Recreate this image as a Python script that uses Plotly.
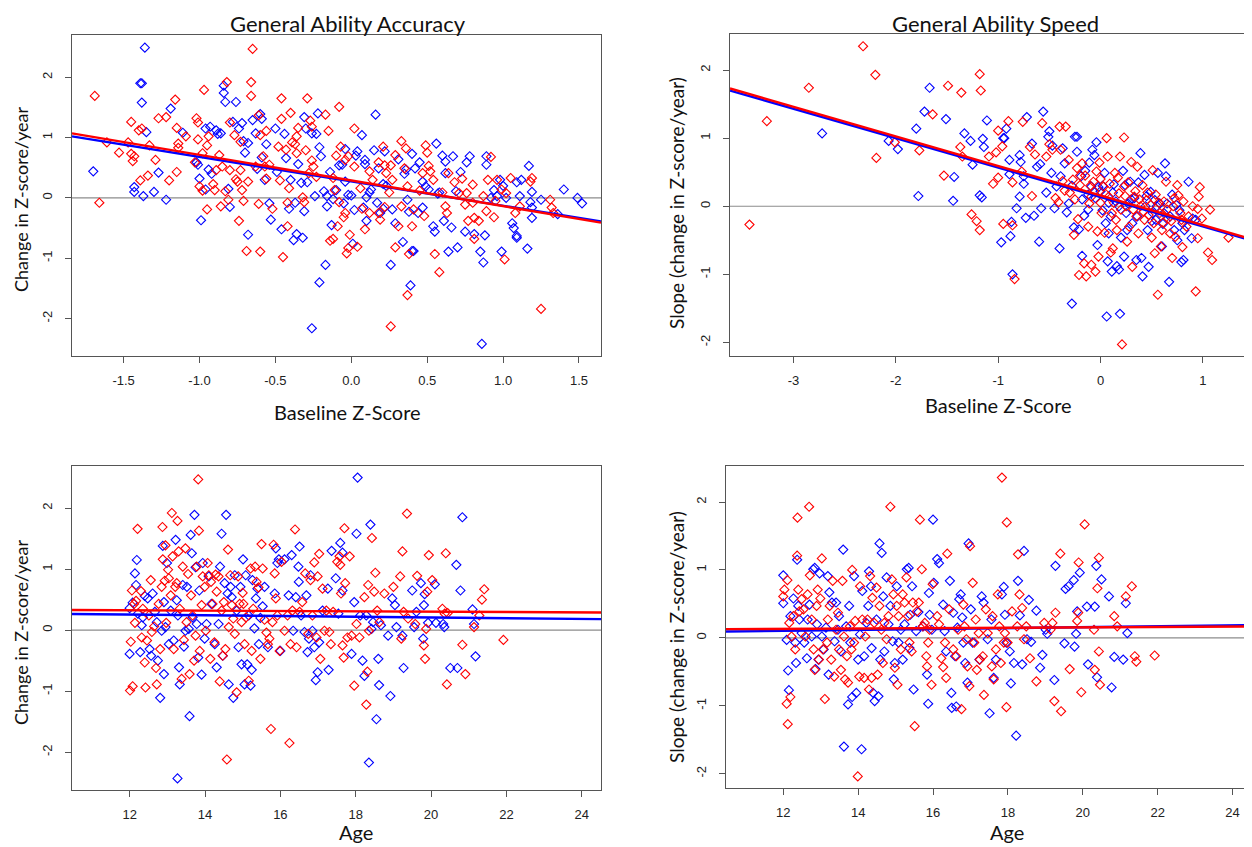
import plotly.graph_objects as go

# ---------------- DATA ----------------
# Panel 1: General Ability Accuracy vs Baseline Z-Score
acc_base_red = [(-1.69,1.69),(-1.66,-0.08),(-1.61,0.92),(-1.53,0.75),(-1.47,0.92),(-1.45,1.26),(-1.45,0.73),(-1.44,0.61),(-1.43,0.69),(-1.40,1.12),(-1.38,1.15),(-1.39,0.29),(-1.34,0.37),(-1.33,0.87),(-1.29,0.63),(-1.27,1.32),(-1.22,1.34),(-1.20,0.29),(-1.16,1.63),(-1.15,1.16),(-1.15,0.43),(-1.14,0.90),(-1.14,0.83),(-1.09,1.02),(-1.03,0.59),(-1.02,1.32),(-1.01,1.25),(-1.01,0.97),(-1.00,0.19),(-0.98,0.12),(-0.97,1.79),(-0.98,0.74),(-0.95,-0.19),(-0.95,0.87),(-0.94,1.02),(-0.91,0.23),(-0.90,0.13),(-0.89,0.46),(-0.87,0.71),(-0.86,-0.14),(-0.85,0.52),(-0.82,1.92),(-0.83,0.11),(-0.81,-0.03),(-0.80,0.46),(-0.80,1.25),(-0.77,1.04),(-0.76,0.31),(-0.75,0.27),(-0.74,-0.38),(-0.73,0.93),(-0.73,0.46),(-0.72,0.13),(-0.71,-0.05),(-0.69,-0.88),(-0.68,0.27),(-0.66,1.69),(-0.66,1.92),(-0.65,2.47),(-0.63,0.52),(-0.61,1.37),(-0.61,-0.10),(-0.60,-0.89),(-0.60,1.04),(-0.58,0.69),(-0.57,0.52),(-0.56,1.11),(-0.56,0.32),(-0.54,0.55),(-0.52,-0.18),(-0.48,0.85),(-0.47,0.29),(-0.46,1.65),(-0.46,1.31),(-0.45,-0.98),(-0.43,0.80),(-0.42,-0.47),(-0.42,-0.08),(-0.41,0.16),(-0.40,1.41),(-0.39,0.92),(-0.37,0.89),(-0.36,0.74),(-0.36,1.02),(-0.35,1.16),(-0.32,0.01),(-0.31,-0.07),(-0.30,0.79),(-0.29,1.65),(-0.28,0.41),(-0.27,1.28),(-0.26,1.18),(-0.26,0.62),(-0.25,0.52),(-0.23,0.35),(-0.17,1.38),(-0.15,1.11),(-0.14,-0.71),(-0.12,-0.68),(-0.12,0.33),(-0.11,0.13),(-0.10,0.70),(-0.09,-0.47),(-0.08,1.51),(-0.08,-0.07),(-0.07,0.85),(-0.05,-0.32),(-0.04,-0.25),(-0.04,0.63),(-0.03,-0.92),(-0.02,-0.83),(-0.02,0.69),(-0.01,-0.61),(0.02,1.15),(0.02,0.52),(0.04,-0.81),(0.06,0.16),(0.07,-0.18),(0.09,-0.52),(0.12,0.44),(0.12,-0.25),(0.14,0.30),(0.18,0.59),(0.18,-0.25),(0.19,-0.36),(0.21,0.85),(0.22,0.54),(0.22,-0.15),(0.23,0.41),(0.25,0.09),(0.26,0.54),(0.26,-2.13),(0.27,0.30),(0.29,-0.82),(0.29,0.71),(0.31,-0.47),(0.33,0.94),(0.33,-0.14),(0.35,0.49),(0.36,0.82),(0.37,-1.61),(0.37,0.19),(0.38,-0.93),(0.40,-0.47),(0.41,-0.19),(0.45,0.12),(0.47,0.41),(0.48,-0.30),(0.49,0.87),(0.50,0.75),(0.51,0.53),(0.52,0.44),(0.54,0.30),(0.55,-0.93),(0.58,-1.23),(0.60,0.09),(0.62,-0.14),(0.63,-0.25),(0.64,0.41),(0.68,0.26),(0.71,0.08),(0.73,0.32),(0.75,-0.11),(0.76,0.08),(0.77,-0.38),(0.80,0.22),(0.80,-0.08),(0.81,-0.33),(0.81,-0.68),(0.84,-0.38),(0.87,0.03),(0.89,-0.22),(0.90,0.30),(0.92,0.68),(0.94,-0.32),(0.95,-0.05),(0.96,0.30),(0.99,0.14),(1.01,-1.02),(1.02,0.08),(1.05,0.33),(1.08,-0.25),(1.11,-0.14),(1.18,0.27),(1.19,0.33),(1.25,-1.84),(1.31,-0.03),(1.32,-0.16),(1.33,-0.25)]
acc_base_blue = [(-1.70,0.44),(-1.43,0.18),(-1.43,0.10),(-1.39,1.90),(-1.38,1.90),(-1.38,1.58),(-1.37,0.03),(-1.36,2.49),(-1.35,1.09),(-1.30,0.10),(-1.27,0.42),(-1.22,-0.03),(-1.19,1.48),(-1.11,1.08),(-1.02,0.59),(-1.01,0.55),(-1.00,0.32),(-0.99,-0.37),(-0.96,0.14),(-0.96,1.15),(-0.94,0.47),(-0.93,1.18),(-0.92,0.40),(-0.89,1.12),(-0.88,1.06),(-0.86,1.07),(-0.84,1.86),(-0.84,1.74),(-0.83,1.59),(-0.81,0.15),(-0.80,-0.15),(-0.78,1.26),(-0.76,1.59),(-0.74,1.15),(-0.72,1.24),(-0.71,0.94),(-0.70,0.75),(-0.68,0.91),(-0.68,-0.61),(-0.65,1.29),(-0.63,1.07),(-0.62,0.48),(-0.60,1.39),(-0.59,1.31),(-0.59,0.67),(-0.57,0.30),(-0.56,0.89),(-0.54,-0.09),(-0.53,-0.36),(-0.50,1.15),(-0.49,0.43),(-0.46,-0.52),(-0.44,1.06),(-0.43,0.66),(-0.41,-0.18),(-0.40,0.30),(-0.38,-0.70),(-0.37,-0.08),(-0.36,-0.60),(-0.35,0.56),(-0.33,0.25),(-0.32,-0.66),(-0.31,-0.22),(-0.31,1.34),(-0.30,1.15),(-0.29,0.26),(-0.26,1.07),(-0.26,-2.16),(-0.24,0.03),(-0.23,1.06),(-0.22,1.40),(-0.21,-1.40),(-0.21,0.84),(-0.20,0.69),(-0.18,0.11),(-0.17,-1.11),(-0.16,-0.14),(-0.16,0.03),(-0.14,0.43),(-0.13,-0.45),(-0.12,-0.02),(-0.10,0.13),(-0.08,0.54),(-0.06,0.55),(-0.05,-0.09),(-0.04,0.27),(-0.04,0.81),(-0.02,0.05),(0.00,0.04),(0.01,-0.76),(0.02,-0.20),(0.03,0.70),(0.04,0.77),(0.07,1.04),(0.08,-0.16),(0.09,0.63),(0.09,0.56),(0.10,0.01),(0.10,-0.38),(0.12,0.09),(0.13,0.14),(0.15,0.79),(0.16,1.38),(0.17,-0.08),(0.18,0.49),(0.19,-0.25),(0.21,-0.18),(0.21,0.23),(0.22,0.77),(0.23,0.20),(0.26,-1.11),(0.27,-0.19),(0.29,-0.42),(0.31,0.64),(0.34,-0.73),(0.35,0.40),(0.36,0.47),(0.37,-0.03),(0.38,-0.23),(0.39,-1.45),(0.40,0.73),(0.40,-0.88),(0.41,-0.88),(0.42,0.49),(0.44,-0.25),(0.45,0.59),(0.47,-0.16),(0.47,0.27),(0.49,0.19),(0.51,0.14),(0.54,-0.47),(0.55,-0.56),(0.56,0.90),(0.57,0.07),(0.58,0.09),(0.60,0.70),(0.61,-0.38),(0.62,0.41),(0.62,0.60),(0.64,-0.89),(0.66,-0.49),(0.67,0.69),(0.69,0.11),(0.70,-0.82),(0.72,0.43),(0.75,-0.56),(0.76,0.59),(0.78,0.69),(0.81,-0.60),(0.85,-0.89),(0.86,-2.42),(0.87,-1.07),(0.88,-0.62),(0.89,0.55),(0.89,0.69),(0.92,0.00),(0.94,0.13),(0.96,0.03),(0.98,0.30),(0.99,-0.89),(1.00,0.20),(1.02,0.00),(1.06,-0.42),(1.07,-0.50),(1.09,-0.63),(1.09,-0.66),(1.09,0.26),(1.11,0.03),(1.12,0.30),(1.16,-0.84),(1.17,0.53),(1.18,-0.07),(1.19,-0.16),(1.19,0.10),(1.19,-0.33),(1.25,-0.03),(1.36,-0.27),(1.40,0.14),(1.49,0.00),(1.52,-0.09)]
acc_base_fit_red = [0.289, -0.4247]   # intercept, slope
acc_base_fit_blue = [0.275, -0.4046]

# Panel 2: General Ability Speed vs Baseline Z-Score
spd_base_red = [(-3.43,-0.27),(-3.26,1.25),(-2.85,1.74),(-2.32,2.35),(-2.20,1.93),(-2.19,0.71),(-2.01,0.94),(-1.77,0.82),(-1.64,1.35),(-1.53,0.45),(-1.49,1.77),(-1.36,1.67),(-1.37,0.87),(-1.35,0.73),(-1.26,-0.12),(-1.21,-0.22),(-1.18,-0.35),(-1.18,1.94),(-1.17,1.70),(-1.09,0.73),(-1.05,0.33),(-1.02,0.79),(-1.00,1.11),(-1.00,0.42),(-0.96,0.88),(-0.95,-0.26),(-0.90,1.25),(-0.86,0.35),(-0.86,-0.28),(-0.84,-1.07),(-0.77,0.51),(-0.76,1.24),(-0.69,0.87),(-0.67,0.15),(-0.64,0.76),(-0.57,1.22),(-0.53,0.73),(-0.50,0.91),(-0.47,0.83),(-0.44,0.12),(-0.41,0.06),(-0.40,1.17),(-0.39,0.83),(-0.37,0.37),(-0.34,1.17),(-0.35,0.23),(-0.31,0.68),(-0.27,0.39),(-0.26,-0.42),(-0.23,0.56),(-0.22,-0.19),(-0.21,-1.01),(-0.20,0.31),(-0.18,0.63),(-0.16,-0.84),(-0.14,-1.03),(-0.12,-0.30),(-0.11,0.04),(-0.09,-0.86),(-0.09,0.14),(-0.07,0.36),(-0.05,-0.96),(-0.04,0.51),(-0.03,-0.37),(-0.02,-0.74),(-0.01,0.64),(0.01,-0.10),(0.03,0.29),(0.04,-0.39),(0.06,1.00),(0.07,0.73),(0.08,0.14),(0.10,-0.68),(0.11,-0.10),(0.12,-0.62),(0.14,0.49),(0.16,-0.35),(0.18,0.19),(0.19,0.73),(0.21,-2.03),(0.23,0.29),(0.23,1.01),(0.25,0.00),(0.26,-0.52),(0.28,-0.30),(0.30,0.65),(0.31,-0.89),(0.33,0.14),(0.35,-0.15),(0.36,0.58),(0.37,-0.40),(0.39,0.00),(0.41,0.31),(0.43,-0.20),(0.45,0.09),(0.47,-0.13),(0.50,-0.46),(0.51,0.53),(0.53,-0.69),(0.54,0.17),(0.56,-1.30),(0.58,-0.10),(0.59,-0.59),(0.61,-0.24),(0.62,0.07),(0.64,0.36),(0.66,-0.18),(0.68,-0.40),(0.70,-0.76),(0.71,0.00),(0.73,-0.45),(0.75,0.31),(0.76,0.16),(0.78,-0.10),(0.80,-0.60),(0.81,0.07),(0.84,-0.30),(0.90,0.00),(0.93,-1.25),(0.95,-0.47),(0.95,-0.04),(0.96,0.14),(0.97,0.28),(0.99,-0.18),(1.05,-0.68),(1.07,-0.05),(1.09,-0.79),(1.25,-0.46),
                (-0.30,0.20),(-0.25,0.10),(-0.15,0.45),(-0.06,0.22),(0.00,0.40),(0.05,0.18),(0.09,0.33),(0.13,0.05),(0.17,0.42),(0.20,-0.05),(0.24,0.15),(0.27,0.35),(0.32,-0.05),(0.34,0.22),(0.38,0.10),(0.42,-0.08),(0.46,0.20),(0.49,0.02),(0.52,-0.25),(0.57,0.05),(0.60,-0.35),(0.65,-0.05),(0.69,-0.22),(0.72,0.12),(0.79,-0.20),(0.86,-0.15),(0.15,-0.20),(0.00,0.05),(-0.10,0.30),(-0.20,0.45)]
spd_base_blue = [(-2.72,1.07),(-2.07,0.96),(-1.98,0.84),(-1.80,1.14),(-1.78,0.15),(-1.72,1.39),(-1.67,1.74),(-1.51,1.28),(-1.44,0.08),(-1.43,0.43),(-1.33,1.07),(-1.27,0.96),(-1.25,0.61),(-1.18,0.16),(-1.16,0.13),(-1.15,0.99),(-1.14,0.87),(-1.11,1.26),(-0.97,-0.53),(-0.95,1.00),(-0.94,1.00),(-0.92,1.14),(-0.89,0.47),(-0.89,0.68),(-0.88,-0.44),(-0.87,-0.23),(-0.86,-1.00),(-0.82,-0.03),(-0.79,0.75),(-0.79,0.14),(-0.78,0.65),(-0.75,0.44),(-0.75,0.33),(-0.73,-0.17),(-0.72,1.31),(-0.67,0.92),(-0.65,-0.14),(-0.62,0.58),(-0.60,-0.52),(-0.59,0.62),(-0.58,-0.03),(-0.56,1.39),(-0.53,0.20),(-0.51,1.02),(-0.50,1.10),(-0.48,0.49),(-0.47,0.89),(-0.45,-0.03),(-0.43,0.29),(-0.40,-0.62),(-0.39,0.44),(-0.37,0.85),(-0.35,0.63),(-0.33,-0.09),(-0.31,0.04),(-0.28,-1.43),(-0.26,-0.31),(-0.25,1.02),(-0.23,0.80),(-0.23,1.02),(-0.21,-0.34),(-0.19,0.44),(-0.18,-0.73),(-0.16,-0.14),(-0.15,0.52),(-0.12,0.17),(-0.11,0.64),(-0.09,0.29),(-0.08,0.83),(-0.06,0.75),(-0.04,0.94),(-0.03,-0.57),(-0.02,0.28),(0.00,0.22),(0.02,-0.06),(0.04,0.49),(0.06,-1.62),(0.07,-0.81),(0.08,-0.40),(0.10,-0.15),(0.11,-0.96),(0.13,0.32),(0.15,0.07),(0.16,-0.88),(0.18,-0.93),(0.19,-1.58),(0.20,-0.46),(0.22,0.52),(0.23,-0.74),(0.24,0.31),(0.26,-0.35),(0.27,0.04),(0.29,0.36),(0.31,-0.25),(0.33,0.12),(0.35,-0.79),(0.37,0.35),(0.39,0.78),(0.40,-0.76),(0.41,-1.03),(0.43,0.46),(0.44,0.00),(0.46,-0.35),(0.47,-0.89),(0.49,0.21),(0.51,-0.10),(0.53,0.09),(0.54,-0.20),(0.56,0.49),(0.58,0.04),(0.60,-0.59),(0.61,-0.26),(0.63,0.63),(0.64,0.44),(0.65,0.04),(0.67,-1.11),(0.68,-0.15),(0.70,0.17),(0.72,-0.35),(0.75,-0.50),(0.77,-0.06),(0.79,-0.82),(0.81,-0.79),(0.82,-0.35),(0.86,0.36),(0.89,-0.47),(0.90,-0.18),(0.93,-0.20),
                 (-0.28,0.30),(-0.18,0.10),(-0.05,0.12),(0.02,0.30),(0.08,0.05),(0.12,0.20),(0.18,0.00),(0.25,-0.10),(0.30,0.10),(0.36,-0.15),(0.45,0.15),(0.50,-0.22),(0.55,0.00),(0.62,-0.10),(0.74,0.02),(0.80,-0.25),(-0.12,-0.05),(0.05,-0.25)]
spd_base_fit_red = [0.158, -0.434]
spd_base_fit_blue = [0.135, -0.432]

# Panel 3: General Ability Accuracy vs Age
acc_age_red = [(12.03,-0.19),(12.01,-0.99),(12.08,-0.92),(12.06,0.65),(12.12,0.43),(12.17,0.48),(12.21,1.66),(12.14,0.12),(12.30,0.64),(12.32,-0.12),(12.35,0.35),(12.40,-0.53),(12.42,-0.94),(12.46,-0.17),(12.51,0.24),(12.56,0.82),(12.59,-0.03),(12.65,0.06),(12.70,-0.62),(12.72,-0.89),(12.77,0.43),(12.81,-0.31),(12.87,1.69),(12.85,0.71),(12.88,1.16),(12.93,0.81),(12.95,1.39),(12.97,0.12),(13.02,0.99),(13.04,0.85),(13.09,0.57),(13.12,1.92),(13.14,1.21),(13.17,-0.31),(13.21,0.71),(13.25,0.77),(13.27,1.79),(13.30,1.29),(13.33,0.35),(13.38,-0.80),(13.41,1.04),(13.44,-0.16),(13.48,1.34),(13.51,0.13),(13.55,0.92),(13.59,-0.72),(13.63,0.57),(13.67,0.24),(13.71,-0.50),(13.75,-0.09),(13.78,1.04),(13.82,2.47),(13.84,1.63),(13.86,-0.34),(13.91,0.41),(13.94,0.88),(13.99,0.71),(14.02,-0.01),(14.07,1.10),(14.10,0.90),(14.14,-0.47),(14.16,0.79),(14.20,0.43),(14.25,-0.20),(14.28,0.91),(14.31,0.63),(14.36,0.88),(14.39,-0.84),(14.44,0.32),(14.47,-0.42),(14.50,0.46),(14.54,-0.31),(14.58,-2.12),(14.61,1.32),(14.63,0.05),(14.67,0.90),(14.71,0.41),(14.75,0.19),(14.79,-0.06),(14.84,-1.02),(14.88,0.88),(14.92,0.43),(14.97,0.13),(15.00,0.61),(15.02,0.43),(15.05,-0.23),(15.09,0.21),(15.16,-0.83),(15.21,1.01),(15.24,-0.34),(15.28,0.35),(15.33,1.04),(15.37,0.79),(15.42,0.70),(15.47,-0.47),(15.50,1.41),(15.53,1.01),(15.58,0.17),(15.63,-0.04),(15.67,-0.23),(15.71,-0.14),(15.75,-1.62),(15.79,0.13),(15.82,1.40),(15.85,0.93),(15.88,0.52),(15.92,0.24),(15.98,-0.34),(16.03,1.12),(16.11,-0.01),(16.19,0.24),(16.24,-1.85),(16.27,-0.23),(16.32,0.32),(16.39,1.65),(16.43,-0.28),(16.51,0.30),(16.58,0.46),(16.66,0.93),(16.74,-0.06),(16.80,0.82),(16.85,0.24),(16.90,1.11),(16.96,-0.12),(16.99,0.88),(17.03,1.25),(17.06,-0.47),(17.12,0.68),(17.17,-0.01),(17.22,0.32),(17.30,-0.03),(17.34,-0.23),(17.40,0.30),(17.51,1.12),(17.57,1.21),(17.59,1.07),(17.61,0.60),(17.65,-0.25),(17.68,-0.45),(17.70,1.67),(17.72,0.77),(17.78,-0.12),(17.84,1.21),(17.89,-0.09),(17.96,-0.91),(18.02,0.10),(18.10,-0.12),(18.23,0.54),(18.28,-1.22),(18.31,-0.68),(18.33,0.74),(18.35,-0.01),(18.43,1.51),(18.49,0.63),(18.52,0.94),(18.57,0.32),(18.63,0.13),(18.76,0.60),(19.00,0.71),(19.18,0.88),(19.21,-0.14),(19.24,1.29),(19.27,0.30),(19.36,1.91),(19.39,0.19),(19.58,0.10),(19.63,0.89),(19.81,-0.25),(19.84,-0.47),(19.87,0.02),(19.90,0.63),(19.94,1.23),(20.03,0.82),(20.30,0.35),(20.36,0.27),(20.39,1.26),(20.42,-0.89),(20.44,0.28),(20.83,-0.24),(20.91,-0.72),(21.14,0.05),(21.28,0.24),(21.35,0.50),(21.41,0.67),(21.92,-0.16)]
acc_age_blue = [(12.00,-0.39),(12.00,0.36),(12.08,0.45),(12.14,0.93),(12.17,0.74),(12.19,1.15),(12.22,0.27),(12.28,-0.36),(12.32,0.08),(12.35,0.21),(12.40,0.56),(12.48,0.52),(12.53,-0.31),(12.57,-0.42),(12.61,0.60),(12.67,0.30),(12.72,0.13),(12.75,-0.50),(12.81,-1.11),(12.85,-0.01),(12.88,1.38),(12.91,-0.72),(12.91,0.46),(12.95,0.05),(12.99,1.10),(13.04,-0.23),(13.09,0.32),(13.17,-0.17),(13.22,1.48),(13.25,0.49),(13.28,0.24),(13.31,-0.61),(13.33,-0.89),(13.27,-2.43),(13.41,0.74),(13.44,-0.27),(13.48,-0.01),(13.52,0.71),(13.57,0.02),(13.59,-1.41),(13.62,1.56),(13.65,1.26),(13.67,0.21),(13.72,1.89),(13.75,1.03),(13.78,0.10),(13.82,-0.45),(13.85,0.65),(13.91,-0.73),(13.94,1.10),(13.99,-0.14),(14.04,0.10),(14.10,0.88),(14.17,0.43),(14.26,-0.23),(14.31,-0.61),(14.36,0.10),(14.40,1.04),(14.44,1.58),(14.47,-0.42),(14.52,0.77),(14.56,1.89),(14.60,0.60),(14.63,-0.89),(14.68,0.71),(14.71,0.54),(14.75,-1.11),(14.79,0.90),(14.84,0.32),(14.89,-0.28),(14.94,0.71),(14.97,-0.56),(15.01,1.16),(15.05,-0.89),(15.08,0.90),(15.12,-0.56),(15.16,0.24),(15.21,-0.91),(15.24,-0.65),(15.26,0.82),(15.31,0.03),(15.35,0.52),(15.39,0.68),(15.43,-0.23),(15.47,0.20),(15.53,0.39),(15.58,0.71),(15.67,-0.28),(15.85,0.60),(15.88,1.34),(15.92,1.10),(15.96,1.16),(16.00,-0.34),(16.11,1.16),(16.22,0.57),(16.30,1.23),(16.34,-0.01),(16.41,0.54),(16.48,1.04),(16.49,0.79),(16.51,1.37),(16.55,0.24),(16.64,-0.03),(16.69,0.57),(16.72,-0.36),(16.76,-0.14),(16.80,0.90),(16.85,-0.01),(16.90,-0.28),(16.94,-0.82),(16.99,-0.69),(17.03,-0.20),(17.12,0.32),(17.26,0.68),(17.28,-0.65),(17.36,1.30),(17.47,0.85),(17.54,0.27),(17.59,1.43),(17.65,1.27),(17.65,0.65),(17.89,-0.39),(17.96,0.46),(18.02,1.58),(18.05,2.50),(18.12,0.24),(18.18,-0.50),(18.23,-0.75),(18.28,0.24),(18.35,-2.17),(18.39,1.73),(18.42,0.02),(18.46,0.13),(18.55,-1.46),(18.60,-0.47),(18.62,-0.90),(18.67,0.08),(18.86,-0.09),(18.92,-1.08),(18.97,0.52),(19.04,0.41),(19.08,0.05),(19.24,-0.09),(19.27,-0.62),(19.50,0.65),(19.55,0.05),(19.61,0.30),(19.73,0.77),(19.79,-0.14),(19.81,0.41),(19.83,0.59),(19.92,0.12),(20.10,0.75),(20.13,0.12),(20.32,0.10),(20.35,0.05),(20.51,-0.62),(20.67,1.07),(20.70,-0.62),(20.78,0.65),(20.83,1.85),(21.10,0.34),(21.14,0.10),(21.18,-0.43)]
acc_age_fit_red = [0.360, -0.00285]
acc_age_fit_blue = [0.327, -0.0060]

# Panel 4: General Ability Speed vs Age
spd_age_red = [(12.00,0.61),(12.03,0.71),(12.09,-0.97),(12.11,0.85),(12.12,-1.27),(12.16,0.22),(12.19,-0.87),(12.22,0.02),(12.27,0.32),(12.32,-0.17),(12.37,1.21),(12.38,1.77),(12.40,0.71),(12.43,0.39),(12.49,0.57),(12.54,0.42),(12.59,0.02),(12.65,0.64),(12.69,1.93),(12.71,0.92),(12.76,0.27),(12.81,-0.17),(12.84,-0.47),(12.89,0.47),(12.92,0.71),(12.95,-0.32),(12.99,0.58),(13.03,1.17),(13.06,-0.17),(13.11,-0.90),(13.17,-0.07),(13.19,0.27),(13.24,0.47),(13.28,-0.32),(13.32,0.84),(13.36,-0.57),(13.41,0.12),(13.46,0.37),(13.49,-0.17),(13.54,-0.47),(13.58,0.84),(13.62,0.02),(13.65,-0.61),(13.70,-0.27),(13.73,-0.66),(13.78,0.17),(13.82,-0.17),(13.84,1.00),(13.89,-0.07),(13.92,0.25),(13.99,-2.04),(14.03,-0.57),(14.05,0.76),(14.11,0.27),(14.16,-0.59),(14.19,0.02),(14.25,0.27),(14.29,-0.76),(14.32,0.91),(14.36,-0.59),(14.38,0.59),(14.43,0.22),(14.49,0.74),(14.52,-0.54),(14.57,0.47),(14.62,0.12),(14.66,-0.37),(14.70,0.22),(14.76,-0.02),(14.81,0.32),(14.86,1.93),(14.90,0.86),(14.94,0.64),(14.98,-0.44),(15.03,0.47),(15.05,-0.69),(15.08,0.32),(15.14,-0.17),(15.19,0.64),(15.24,0.52),(15.29,0.89),(15.33,0.32),(15.37,-0.07),(15.43,-0.20),(15.46,0.52),(15.51,-1.30),(15.57,0.39),(15.62,0.52),(15.65,1.74),(15.70,1.01),(15.73,0.17),(15.78,0.22),(15.82,-0.27),(15.84,-0.42),(15.87,-0.07),(15.91,0.12),(15.96,-0.69),(15.99,0.79),(16.11,0.32),(16.16,0.20),(16.22,-0.30),(16.27,-0.43),(16.32,-0.07),(16.35,-0.59),(16.38,1.24),(16.43,0.42),(16.54,-0.17),(16.62,-0.27),(16.67,0.12),(16.76,-1.05),(16.81,0.49),(16.84,0.17),(16.89,-0.02),(16.92,-0.42),(16.97,-0.71),(16.99,1.35),(17.06,0.81),(17.10,-0.07),(17.14,0.27),(17.17,-0.47),(17.22,0.07),(17.25,-0.32),(17.33,-0.27),(17.36,-0.84),(17.41,0.42),(17.46,0.07),(17.57,-0.42),(17.59,0.32),(17.62,-0.61),(17.68,-0.17),(17.73,0.64),(17.77,0.17),(17.81,-0.37),(17.84,2.36),(17.89,-0.07),(17.92,0.07),(17.96,-1.02),(17.97,1.70),(17.99,-0.07),(18.11,0.39),(18.25,0.17),(18.27,1.23),(18.31,0.64),(18.38,0.44),(18.43,-0.02),(18.49,0.17),(18.59,-0.30),(18.76,-0.64),(18.97,0.22),(19.14,0.12),(19.19,0.22),(19.24,-0.93),(19.27,0.37),(19.40,1.24),(19.42,-1.08),(19.65,-0.46),(19.85,0.25),(19.88,0.37),(19.89,1.11),(19.96,-0.80),(20.05,1.67),(20.30,0.12),(20.32,-0.47),(20.39,0.73),(20.43,1.18),(20.43,-0.20),(20.46,-0.69),(20.84,0.32),(20.92,0.17),(21.15,0.61),(21.31,0.76),(21.39,-0.27),(21.43,-0.35),(21.92,-0.26)]
spd_age_blue = [(12.00,0.51),(12.00,0.92),(12.09,-0.03),(12.13,-0.48),(12.15,-0.77),(12.19,0.32),(12.27,0.58),(12.32,-0.07),(12.34,-0.37),(12.37,1.15),(12.40,0.47),(12.43,0.27),(12.49,0.07),(12.56,-0.07),(12.63,-0.30),(12.65,0.27),(12.70,0.49),(12.76,0.02),(12.80,1.01),(12.84,1.03),(12.86,-0.46),(12.90,0.20),(12.94,-0.32),(12.97,0.95),(13.03,0.02),(13.08,-0.17),(13.14,0.15),(13.19,0.91),(13.21,-0.54),(13.23,0.67),(13.30,0.52),(13.37,-0.05),(13.41,0.52),(13.46,0.12),(13.49,0.32),(13.54,-0.20),(13.60,1.30),(13.62,-1.60),(13.68,0.17),(13.73,-0.98),(13.76,0.47),(13.79,-0.07),(13.84,-0.87),(13.89,0.91),(13.95,-0.81),(14.00,-0.32),(14.05,0.05),(14.09,-1.64),(14.11,0.69),(14.16,-0.27),(14.22,0.22),(14.27,0.47),(14.29,0.98),(14.34,0.76),(14.36,-0.15),(14.40,-0.81),(14.44,-0.93),(14.49,0.27),(14.54,-0.86),(14.57,1.39),(14.59,-0.32),(14.63,1.25),(14.67,0.61),(14.70,-0.20),(14.76,0.89),(14.81,0.20),(14.86,0.47),(14.92,-0.05),(14.95,-0.61),(14.98,-0.37),(15.03,0.76),(15.08,-0.07),(15.14,0.12),(15.19,-0.32),(15.24,0.20),(15.30,1.01),(15.35,1.03),(15.37,-0.15),(15.39,0.34),(15.44,0.76),(15.48,-0.76),(15.55,0.10),(15.61,0.38),(15.73,0.17),(15.84,-0.54),(15.87,-0.97),(15.89,0.66),(15.91,0.34),(15.97,0.12),(16.00,1.74),(16.02,0.81),(16.11,1.16),(16.16,1.10),(16.27,0.49),(16.31,0.10),(16.35,-0.20),(16.45,0.84),(16.49,-0.81),(16.50,-1.03),(16.54,0.37),(16.59,-0.27),(16.62,-1.01),(16.65,0.15),(16.70,0.57),(16.74,0.64),(16.78,0.30),(16.81,-0.07),(16.86,-0.37),(16.92,-0.66),(16.95,1.39),(17.01,0.42),(17.06,-0.07),(17.24,-0.32),(17.30,0.61),(17.35,0.52),(17.46,-0.02),(17.51,-1.11),(17.56,0.27),(17.62,-0.59),(17.68,-0.32),(17.84,0.64),(17.89,0.75),(17.92,0.34),(17.96,-0.07),(18.05,-0.20),(18.08,-0.67),(18.16,-0.37),(18.22,-1.44),(18.27,0.84),(18.32,0.33),(18.38,-0.39),(18.43,1.28),(18.51,-0.02),(18.56,0.56),(18.62,-0.06),(18.76,0.40),(18.86,-0.44),(18.92,-0.25),(19.01,0.12),(19.05,0.06),(19.24,-0.62),(19.27,1.06),(19.51,-0.08),(19.54,0.72),(19.62,0.76),(19.76,0.85),(19.78,-0.13),(19.82,0.06),(19.85,0.39),(19.92,0.96),(20.11,0.46),(20.14,-0.39),(20.32,0.46),(20.36,1.06),(20.38,-0.58),(20.50,0.86),(20.70,0.61),(20.77,-0.73),(20.84,-0.28),(21.08,-0.32),(21.15,0.51),(21.19,0.07)]
spd_age_fit_red = [0.099, 0.00278]
spd_age_fit_blue = [0.023, 0.0067]

titles = ["General Ability Accuracy", "General Ability Speed"]
x_titles = ["Baseline Z-Score", "Baseline Z-Score", "Age", "Age"]
y_titles = ["Change in Z-score/year", "Slope (change in Z-score/year)",
            "Change in Z-score/year", "Slope (change in Z-score/year)"]
base_acc_ticks = [-1.5, -1.0, -0.5, 0.0, 0.5, 1.0, 1.5]
base_acc_ticklabels = ["-1.5", "-1.0", "-0.5", "0.0", "0.5", "1.0", "1.5"]
base_spd_ticks = [-3, -2, -1, 0, 1]
base_spd_ticklabels = ["-3", "-2", "-1", "0", "1"]
age_ticks = [12, 14, 16, 18, 20, 22, 24]
age_ticklabels = ["12", "14", "16", "18", "20", "22", "24"]
y_ticks = [-2, -1, 0, 1, 2]
y_ticklabels = ["-2", "-1", "0", "1", "2"]

# ---------------- FIGURE ----------------
# The page body adds an 8px offset, so the figure is drawn 8px smaller and all
# reference pixel positions are shifted by that offset.
OFF = 8
W, H = 1252 - OFF, 847 - OFF
RED, BLUE = "#ff0000", "#0000ff"
TXT_FONT = "Lato, 'Open Sans', sans-serif"
TICK_FONT = "'Liberation Sans', Arial, sans-serif"

panels = [
    dict(red=acc_base_red, blue=acc_base_blue, fr=acc_base_fit_red, fb=acc_base_fit_blue,
         xr=[-1.84, 1.645], yr=[-2.62, 2.70], dom_x=[72, 601], dom_y=[35, 356],
         xt=base_acc_ticks, xl=base_acc_ticklabels, mirror_y=True),
    dict(red=spd_base_red, blue=spd_base_blue, fr=spd_base_fit_red, fb=spd_base_fit_blue,
         xr=[-3.62, 1.48], yr=[-2.20, 2.53], dom_x=[730, 1252], dom_y=[34, 356],
         xt=base_spd_ticks, xl=base_spd_ticklabels, mirror_y=False),
    dict(red=acc_age_red, blue=acc_age_blue, fr=acc_age_fit_red, fb=acc_age_fit_blue,
         xr=[10.47, 24.51], yr=[-2.62, 2.69], dom_x=[72, 601], dom_y=[466, 790],
         xt=age_ticks, xl=age_ticklabels, mirror_y=True),
    dict(red=spd_age_red, blue=spd_age_blue, fr=spd_age_fit_red, fb=spd_age_fit_blue,
         xr=[10.47, 24.52], yr=[-2.21, 2.53], dom_x=[726, 1252], dom_y=[466, 788],
         xt=age_ticks, xl=age_ticklabels, mirror_y=False),
]


def px_x(v):
    return min(1.0, max(0.0, (v - OFF) / W))


def px_y(v):
    return min(1.0, max(0.0, 1 - (v - OFF) / H))


fig = go.Figure()
layout = dict(width=W, height=H, margin=dict(l=0, r=0, t=0, b=0),
              paper_bgcolor="white", plot_bgcolor="white", showlegend=False)
shapes = []
annotations = []

for i, p in enumerate(panels):
    n = i + 1
    xa = "x" if n == 1 else f"x{n}"
    ya = "y" if n == 1 else f"y{n}"
    for pts, col in ((p["blue"], BLUE), (p["red"], RED)):
        fig.add_trace(go.Scatter(
            x=[a for a, b in pts], y=[b for a, b in pts], mode="markers",
            xaxis=xa, yaxis=ya,
            marker=dict(symbol="diamond-open", size=7, color=col, line=dict(width=1.1, color=col)),
            hoverinfo="skip"))
    for fit, col in ((p["fb"], BLUE), (p["fr"], RED)):
        xs = [p["xr"][0], p["xr"][1]]
        fig.add_trace(go.Scatter(
            x=xs, y=[fit[0] + fit[1] * v for v in xs], mode="lines",
            xaxis=xa, yaxis=ya, line=dict(color=col, width=2.4), hoverinfo="skip"))
    shapes.append(dict(type="line", xref=f"{xa} domain", yref=ya, x0=0, x1=1, y0=0, y1=0,
                       line=dict(color="#8c8c8c", width=1.2), layer="below"))
    dx = [px_x(p["dom_x"][0]), px_x(p["dom_x"][1])]
    dy = [px_y(p["dom_y"][1]), px_y(p["dom_y"][0])]
    axis_common = dict(showgrid=False, zeroline=False, showline=True, linecolor="#555555",
                       linewidth=1.2, ticks="outside", ticklen=6, tickwidth=1.1, tickcolor="#555555",
                       tickfont=dict(family=TICK_FONT, size=13, color="#222222"))
    layout["xaxis" if n == 1 else f"xaxis{n}"] = dict(
        axis_common, domain=dx, range=p["xr"], tickmode="array", tickvals=p["xt"], ticktext=p["xl"],
        anchor=ya, mirror=True, ticklabelstandoff=6)
    layout["yaxis" if n == 1 else f"yaxis{n}"] = dict(
        axis_common, domain=dy, range=p["yr"], tickmode="array", tickvals=y_ticks, ticktext=y_ticklabels,
        anchor=xa, mirror=p["mirror_y"], tickangle=-90, ticklabelstandoff=8)

# titles: anchored at the top edge of the figure so they are never clipped
title_x = [348, 996]
for t, x in zip(titles, title_x):
    annotations.append(dict(text=t, x=px_x(x), y=1.0, xref="paper", yref="paper",
                            showarrow=False, xanchor="center", yanchor="top",
                            font=dict(family=TXT_FONT, size=22, color="#111111")))
xt_pos = [(347, 412), (998, 405), (356, 832), (1007, 832)]
for t, (x, y) in zip(x_titles, xt_pos):
    annotations.append(dict(text=t, x=px_x(x), y=px_y(y), xref="paper", yref="paper",
                            showarrow=False, xanchor="center", yanchor="middle",
                            font=dict(family=TXT_FONT, size=20, color="#111111")))
yt_pos = [(21, 200), (676, 203), (21, 633), (676, 637)]
yt_size = [18, 19, 18, 19]
for t, (x, y), s in zip(y_titles, yt_pos, yt_size):
    annotations.append(dict(text=t, x=px_x(x), y=px_y(y), xref="paper", yref="paper",
                            showarrow=False, xanchor="center", yanchor="middle", textangle=-90,
                            font=dict(family=TXT_FONT, size=s, color="#111111")))

layout["shapes"] = shapes
layout["annotations"] = annotations
fig.update_layout(**layout)
fig.write_html("out.html")
